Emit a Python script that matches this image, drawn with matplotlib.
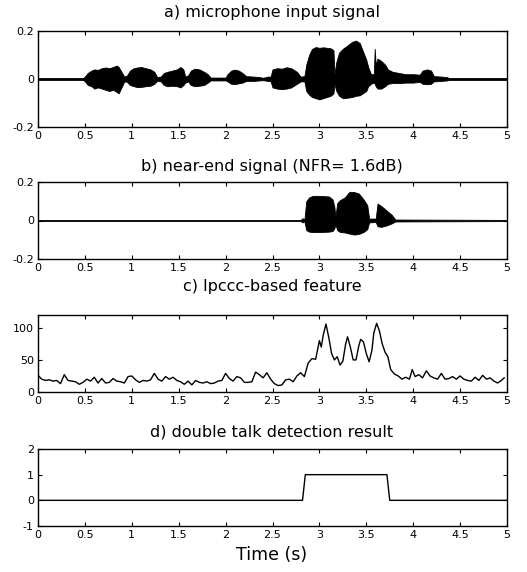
import matplotlib
matplotlib.use('Agg')
import matplotlib.pyplot as plt

plt.rcParams.update({
    'font.family': 'DejaVu Sans',
    'axes.linewidth': 1.0,
    })

# a) microphone input signal, envelope (time, upper, lower)
t_mic = [0.00, 0.48, 0.50, 0.53, 0.57, 0.60, 0.64, 0.68, 0.72, 0.76, 0.80, 0.84, 0.86, 0.89, 0.92,
         0.95, 0.98, 1.02, 1.06, 1.10, 1.15, 1.20, 1.24, 1.27, 1.31, 1.34, 1.38, 1.43, 1.48, 1.52,
         1.55, 1.57, 1.60, 1.63, 1.67, 1.72, 1.77, 1.81, 1.84, 2.00, 2.02, 2.06, 2.10, 2.14, 2.18,
         2.22, 2.30, 2.36, 2.40, 2.45, 2.48, 2.50, 2.55, 2.60, 2.65, 2.70, 2.76, 2.80, 2.84, 2.86,
         2.89, 2.92, 2.96, 3.00, 3.04, 3.08, 3.12, 3.15, 3.16, 3.18, 3.21, 3.25, 3.30, 3.35, 3.39,
         3.43, 3.46, 3.50, 3.52, 3.55, 3.58, 3.59, 3.60, 3.62, 3.66, 3.70, 3.73, 3.78, 3.85, 3.92,
         4.00, 4.07, 4.10, 4.15, 4.19, 4.22, 4.30, 4.36, 4.38, 5.00]
up_mic = [0.004, 0.004, 0.010, 0.025, 0.035, 0.040, 0.038, 0.045, 0.048, 0.045, 0.050, 0.056, 0.050, 0.030, 0.010,
          0.015, 0.035, 0.045, 0.048, 0.050, 0.045, 0.040, 0.030, 0.008, 0.010, 0.025, 0.030, 0.035, 0.040, 0.050,
          0.040, 0.010, 0.015, 0.035, 0.043, 0.040, 0.030, 0.020, 0.006, 0.006, 0.020, 0.035, 0.039, 0.035, 0.025,
          0.012, 0.010, 0.008, 0.005, 0.010, 0.010, 0.040, 0.045, 0.043, 0.049, 0.045, 0.030, 0.010, 0.012, 0.060,
          0.100, 0.125, 0.133, 0.130, 0.132, 0.130, 0.128, 0.120, 0.020, 0.070, 0.110, 0.126, 0.140, 0.155, 0.160,
          0.150, 0.120, 0.080, 0.050, 0.020, 0.020, 0.126, 0.060, 0.085, 0.075, 0.060, 0.040, 0.030, 0.025, 0.020,
          0.020, 0.018, 0.035, 0.040, 0.035, 0.012, 0.010, 0.008, 0.004, 0.004]
lo_mic = [-0.004, -0.004, -0.010, -0.025, -0.030, -0.040, -0.035, -0.040, -0.045, -0.050, -0.045, -0.054, -0.060, -0.035, -0.010,
          -0.012, -0.025, -0.030, -0.034, -0.033, -0.030, -0.028, -0.020, -0.008, -0.010, -0.025, -0.030, -0.028, -0.030, -0.035,
          -0.025, -0.015, -0.010, -0.025, -0.030, -0.028, -0.025, -0.015, -0.006, -0.006, -0.010, -0.020, -0.021, -0.018, -0.015,
          -0.008, -0.008, -0.006, -0.005, -0.008, -0.010, -0.035, -0.040, -0.042, -0.040, -0.035, -0.020, -0.010, -0.010, -0.050,
          -0.065, -0.075, -0.080, -0.085, -0.080, -0.075, -0.070, -0.060, -0.020, -0.050, -0.070, -0.080, -0.078, -0.075, -0.070,
          -0.068, -0.060, -0.050, -0.030, -0.020, -0.015, -0.020, -0.030, -0.040, -0.040, -0.030, -0.020, -0.017, -0.017, -0.015,
          -0.015, -0.012, -0.020, -0.022, -0.020, -0.010, -0.008, -0.006, -0.004, -0.004]

# b) near-end signal envelope
t_near = [0.00, 2.80, 2.82, 2.84, 2.86, 2.89, 2.93, 3.00, 3.10, 3.14, 3.16, 3.17, 3.19, 3.22,
          3.27, 3.32, 3.37, 3.42, 3.47, 3.51, 3.53, 3.60, 3.62, 3.66, 3.72, 3.77, 3.81, 5.00]
up_near = [0.003, 0.003, 0.012, 0.004, 0.100, 0.120, 0.128, 0.128, 0.125, 0.110, 0.070, 0.020, 0.090, 0.106,
           0.120, 0.149, 0.148, 0.140, 0.110, 0.080, 0.010, 0.010, 0.088, 0.075, 0.050, 0.030, 0.005, 0.003]
lo_near = [-0.003, -0.003, -0.010, -0.004, -0.050, -0.058, -0.060, -0.060, -0.058, -0.055, -0.040, -0.020, -0.050, -0.060,
           -0.062, -0.068, -0.073, -0.070, -0.060, -0.045, -0.010, -0.008, -0.030, -0.033, -0.025, -0.015, -0.005, -0.003]

# c) lpccc-based feature
t_feat = [0.00, 0.04, 0.08, 0.12, 0.16, 0.20, 0.24, 0.28, 0.32, 0.36, 0.40, 0.44, 0.48, 0.52, 0.56,
          0.60, 0.64, 0.68, 0.72, 0.76, 0.80, 0.84, 0.88, 0.92, 0.96, 1.00, 1.04, 1.08, 1.12, 1.16,
          1.20, 1.24, 1.28, 1.32, 1.36, 1.40, 1.44, 1.48, 1.52, 1.56, 1.60, 1.64, 1.68, 1.72, 1.76,
          1.80, 1.84, 1.88, 1.92, 1.96, 2.00, 2.04, 2.08, 2.12, 2.16, 2.20, 2.24, 2.28, 2.32, 2.36,
          2.40, 2.44, 2.48, 2.52, 2.56, 2.60, 2.64, 2.68, 2.72, 2.76, 2.80, 2.84, 2.88, 2.92, 2.96,
          3.00, 3.02, 3.04, 3.07, 3.10, 3.13, 3.16, 3.19, 3.22, 3.25, 3.28, 3.30, 3.33, 3.36, 3.39,
          3.42, 3.44, 3.47, 3.50, 3.53, 3.56, 3.58, 3.61, 3.64, 3.67, 3.70, 3.73, 3.76, 3.80, 3.84,
          3.88, 3.92, 3.96, 3.99, 4.02, 4.06, 4.10, 4.14, 4.18, 4.22, 4.26, 4.30, 4.34, 4.38, 4.42,
          4.46, 4.50, 4.54, 4.58, 4.62, 4.66, 4.70, 4.74, 4.78, 4.82, 4.86, 4.90, 4.94, 4.97]
feat = [26, 20, 18, 19, 17, 18, 13, 27, 18, 17, 16, 12, 15, 20, 17,
        23, 14, 21, 14, 15, 21, 17, 16, 14, 24, 25, 19, 15, 18, 17,
        19, 29, 20, 17, 24, 20, 23, 18, 16, 12, 17, 11, 18, 15, 14,
        16, 13, 14, 17, 18, 29, 21, 17, 24, 22, 15, 15, 16, 31, 27,
        22, 30, 20, 13, 10, 11, 19, 20, 16, 25, 30, 24, 45, 52, 51,
        80, 70, 88, 106, 85, 60, 50, 55, 42, 48, 75, 86, 70, 50, 50,
        72, 82, 78, 60, 47, 65, 92, 107, 95, 75, 62, 55, 35, 28, 25,
        20, 23, 20, 35, 24, 27, 22, 33, 25, 22, 20, 29, 20, 21, 24,
        20, 25, 20, 18, 17, 23, 18, 26, 20, 22, 17, 14, 18, 22]

# d) double talk detection result
t_dt = [0.00, 2.82, 2.85, 3.72, 3.75, 5.00]
dt = [0, 0, 1, 1, 0, 0]

x_ticks = [0, 0.5, 1, 1.5, 2, 2.5, 3, 3.5, 4, 4.5, 5]
x_labels = ['0', '0.5', '1', '1.5', '2', '2.5', '3', '3.5', '4', '4.5', '5']

W, H = 527, 572
fig = plt.figure(figsize=(W / 100, H / 100), dpi=100)

def box(top, bottom):
    return [38 / W, 1 - bottom / H, (507 - 38) / W, (bottom - top) / H]

ax1 = fig.add_axes(box(31, 127))
ax2 = fig.add_axes(box(182, 259))
ax3 = fig.add_axes(box(315, 392))
ax4 = fig.add_axes(box(449, 526))

ax1.fill_between(t_mic, up_mic, lo_mic, color='black', lw=0.6)
ax2.fill_between(t_near, up_near, lo_near, color='black', lw=0.6)
ax3.plot(t_feat, feat, color='black', lw=1.0)
ax4.plot(t_dt, dt, color='black', lw=1.0)

ax1.set_ylim(-0.2, 0.2)
ax2.set_ylim(-0.2, 0.2)
ax3.set_ylim(0, 120)
ax4.set_ylim(-1, 2)
ax1.set_yticks([-0.2, 0, 0.2], ['-0.2', '0', '0.2'])
ax2.set_yticks([-0.2, 0, 0.2], ['-0.2', '0', '0.2'])
ax3.set_yticks([0, 50, 100], ['0', '50', '100'])
ax4.set_yticks([-1, 0, 1, 2], ['-1', '0', '1', '2'])

for ax in (ax1, ax2, ax3, ax4):
    ax.set_xlim(0, 5)
    ax.set_xticks(x_ticks, x_labels)
    ax.tick_params(direction='in', length=3, width=0.8, top=True, right=True,
                   labelsize=8, pad=3)

titles = ['a) microphone input signal', 'b) near-end signal (NFR= 1.6dB)',
          'c) lpccc-based feature', 'd) double talk detection result']
title_y = [12, 166, 286, 432]
for s, y in zip(titles, title_y):
    fig.text(272 / W, 1 - y / H, s, ha='center', va='center', fontsize=11.5)

fig.text(272 / W, 1 - 555 / H, 'Time (s)', ha='center', va='center', fontsize=12.5)

fig.savefig('out.png', dpi=100)
